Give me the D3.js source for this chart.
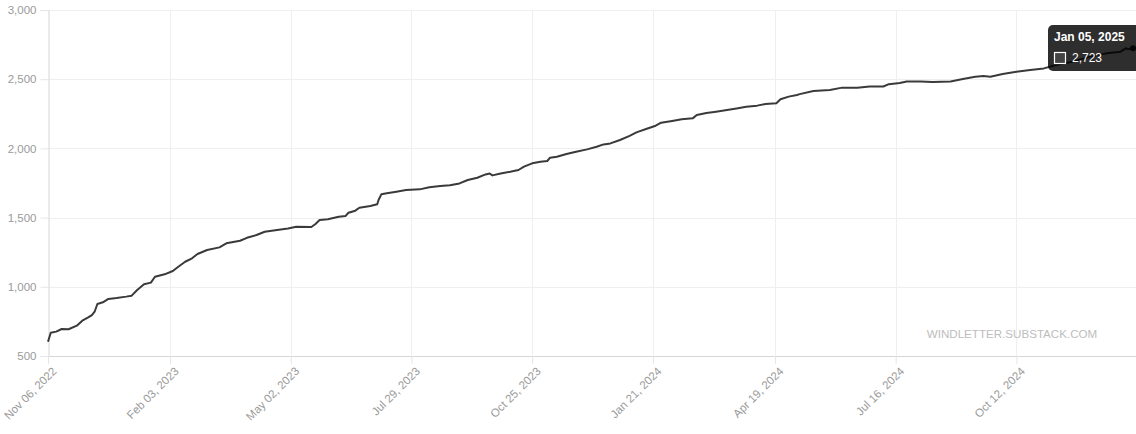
<!DOCTYPE html>
<html>
<head>
<meta charset="utf-8">
<script src="https://cdn.jsdelivr.net/npm/d3@7/dist/d3.min.js"></script>
<style>
  html, body { margin: 0; padding: 0; background: #fff; }
  svg { display: block; font-family: "Liberation Sans", Arial, sans-serif; }
</style>
</head>
<body>
<svg id="chart" width="1136" height="434"></svg>
<script>
// ---- data ----
const startDate = "Nov 06, 2022";
const daysSinceStart = [0,2,6,10,15,21,25,29,32,34,36,40,44,50,57,61,65,70,75,78,85,91,95,100,105,109,116,125,130,136,140,145,152,158,167,175,181,192,195,198,204,212,217,219,224,227,235,240,241,243,247,254,261,271,278,286,293,300,306,313,319,322,324,330,337,343,347,353,359,364,366,371,378,385,393,400,405,410,417,424,429,436,443,447,455,462,470,473,480,487,495,502,509,517,523,531,534,540,546,548,558,570,579,590,599,609,613,621,626,636,645,658,667,676,682,687,696,706,716,726,735,747,760,772,782,786,787,791];
const cumulativeValues = [603,668,676,695,693,719,755,777,796,820,876,888,912,919,929,936,977,1018,1030,1073,1090,1114,1145,1181,1206,1237,1266,1285,1314,1326,1333,1354,1374,1398,1410,1422,1434,1432,1454,1483,1488,1506,1512,1535,1550,1571,1584,1596,1627,1668,1676,1687,1699,1704,1719,1728,1733,1747,1772,1788,1812,1819,1805,1819,1831,1844,1868,1892,1904,1909,1933,1940,1960,1976,1993,2012,2029,2036,2061,2090,2116,2140,2164,2186,2198,2210,2217,2241,2256,2265,2277,2289,2301,2309,2321,2326,2355,2374,2386,2392,2415,2422,2439,2439,2447,2447,2464,2472,2484,2484,2479,2484,2501,2517,2523,2517,2537,2554,2566,2578,2603,2627,2663,2687,2699,2724,2717,2723];
const xTickLabels = ["Nov 06, 2022","Feb 03, 2023","May 02, 2023","Jul 29, 2023","Oct 25, 2023","Jan 21, 2024","Apr 19, 2024","Jul 16, 2024","Oct 12, 2024"];
const yTickValues = [500,1000,1500,2000,2500,3000];
const tooltipTitle = "Jan 05, 2025";
const tooltipValue = 2723;
const watermark = "WINDLETTER.SUBSTACK.COM";

// ---- build ----
(function () {
const parse = d3.timeParse("%b %d, %Y");
const fmtDate = d3.timeFormat("%b %d, %Y");
const start = parse(startDate);
const data = daysSinceStart.map((d, i) => ({ date: d3.timeDay.offset(start, d), value: cumulativeValues[i] }));
const lastDate = data[data.length - 1].date;

const W = 1136;
const mLeft = 48, mRight = 1133, mTop = 10, mBottom = 356;

const x = d3.scaleTime().domain([start, lastDate]).range([mLeft, mRight]);
const y = d3.scaleLinear().domain([500, 3000]).range([mBottom, mTop]);

const svg = d3.select("#chart");

// horizontal grid
svg.append("g").selectAll("line").data(yTickValues.filter(v => v !== 500)).join("line")
  .attr("x1", mLeft).attr("x2", W).attr("y1", d => Math.round(y(d)) + 0.5).attr("y2", d => Math.round(y(d)) + 0.5)
  .attr("stroke", "#efefef").attr("stroke-width", 1);

// vertical grid
const xTickDates = xTickLabels.map(parse);
svg.append("g").selectAll("line").data(xTickDates.slice(1)).join("line")
  .attr("x1", d => Math.round(x(d)) + 0.5).attr("x2", d => Math.round(x(d)) + 0.5)
  .attr("y1", mTop).attr("y2", mBottom)
  .attr("stroke", "#efefef").attr("stroke-width", 1);

// y axis
const yAxis = d3.axisLeft(y).tickValues(yTickValues).tickSize(8).tickPadding(4).tickFormat(d3.format(","));
const yg = svg.append("g").attr("transform", `translate(${mLeft + 0.5},0)`).call(yAxis);
yg.select(".domain").attr("stroke", "#d6d6d6");
yg.selectAll(".tick line").attr("stroke", "#e6e6e6");
yg.selectAll(".tick text").attr("fill", "#9a9a9a").style("font-size", "11.5px").attr("font-family", "Liberation Sans, Arial, sans-serif");

// x axis
const xAxis = d3.axisBottom(x).tickValues(xTickDates).tickSize(8).tickFormat(fmtDate);
const xg = svg.append("g").attr("transform", `translate(0,${mBottom})`).call(xAxis);
xg.select(".domain").attr("stroke", "#d6d6d6").attr("d", `M${mLeft},0.5H${W}`);
xg.selectAll(".tick line").attr("stroke", "#e6e6e6");
xg.selectAll(".tick text")
  .attr("fill", "#9a9a9a").style("font-size", "11.5px").attr("font-family", "Liberation Sans, Arial, sans-serif")
  .attr("text-anchor", "end")
  .attr("y", 0)
  .attr("dy", "0.35em")
  .attr("transform", "translate(6,13) rotate(-45)");

// watermark
svg.append("text").attr("x", 1012).attr("y", 338).attr("text-anchor", "middle")
  .attr("fill", "#bdbdbd").style("font-size", "11.6px").text(watermark);

// line
const line = d3.line().x(d => x(d.date)).y(d => y(d.value));
svg.append("path").datum(data).attr("d", line)
  .attr("fill", "none").attr("stroke", "#3a3a3a").attr("stroke-width", 2).attr("stroke-linejoin", "round");

// hover point
const last = data[data.length - 1];
svg.append("circle").attr("cx", x(last.date)).attr("cy", y(last.value)).attr("r", 3).attr("fill", "#222");

// tooltip
const tip = svg.append("g");
tip.append("rect").attr("x", 1048).attr("y", 25).attr("width", 96).attr("height", 46).attr("rx", 5)
  .attr("fill", "rgba(0,0,0,0.82)");
tip.append("text").attr("x", 1054).attr("y", 41).attr("fill", "#fff").style("font-size", "12px").attr("font-weight", "bold")
  .text(tooltipTitle);
tip.append("rect").attr("x", 1054.5).attr("y", 52.5).attr("width", 11).attr("height", 11)
  .attr("fill", "#444").attr("stroke", "#fff").attr("stroke-width", 1.2);
tip.append("text").attr("x", 1072).attr("y", 62).attr("fill", "#fff").style("font-size", "12px")
  .text(d3.format(",")(tooltipValue));
})();
</script>
</body>
</html>
